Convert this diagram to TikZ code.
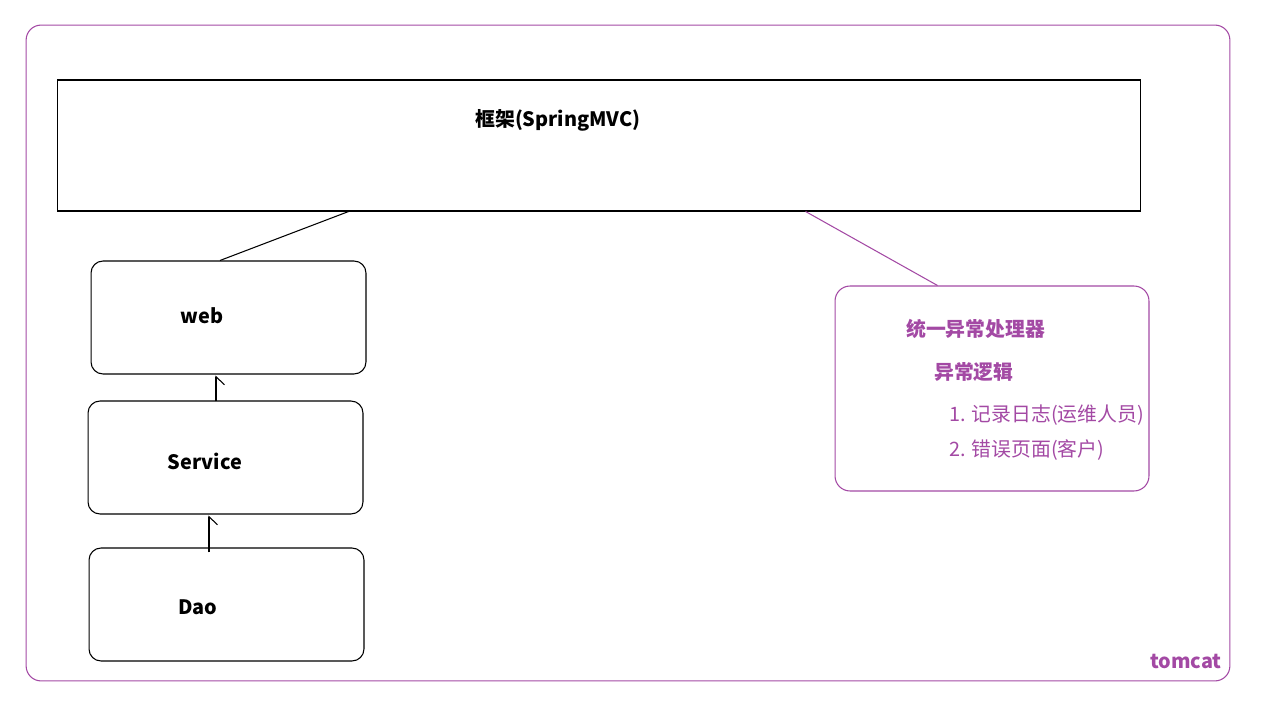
\documentclass[tikz,border=0pt]{standalone}
\usepackage{fontspec}
\setmainfont{Noto Sans CJK SC}
\usetikzlibrary{calc,arrows.meta}
\definecolor{tomcatpurple}{RGB}{163,73,164}
\begin{document}
\begin{tikzpicture}[x=0.02cm, y=-0.02cm, font=\fontsize{11.3}{13}\selectfont,
	box/.style={rectangle, rounded corners=0.24cm, draw=black, line width=0.6pt, minimum width=5.5cm, minimum height=2.26cm},
	boxtext/.style={font=\fontsize{11.3}{13}\selectfont\bfseries},
	half/.style={-{Straight Barb[right, length=0.16cm, width=0.34cm]}, line width=0.6pt}]
	\useasboundingbox (0,0) rectangle (1267,702);
	\node[rectangle, rounded corners=0.3cm, draw=tomcatpurple, line width=0.6pt, minimum width=24.08cm, minimum height=13.12cm](tomcat) at (628,353){};
	\node[text=tomcatpurple, boxtext](tomcattext) at (1186,661){tomcat};
	\node[rectangle, draw=black, line width=0.6pt, minimum width=21.68cm, minimum height=2.62cm](frame) at (599,145.5){};
	\node[boxtext](frametitle) at (558,120){框架(SpringMVC)};
	\node[box](web) at (228.5,317.5){};
	\node[boxtext](webtext) at (202,316){web};
	\node[box](service) at (225.5,457.5){};
	\node[boxtext](servicetext) at (205,461){Service};
	\node[box](dao) at (226.5,604.5){};
	\node[boxtext](daotext) at (198,607){Dao};
	\node[rectangle, rounded corners=0.3cm, draw=tomcatpurple, line width=0.6pt, minimum width=6.28cm, minimum height=4.1cm](handler) at (992,388.5){};
	\node[text=tomcatpurple, boxtext, anchor=west](handlertitle) at (900,329){统一异常处理器};
	\node[text=tomcatpurple, boxtext, anchor=west](logic) at (928,372){异常逻辑};
	\node[text=tomcatpurple, anchor=west](stepone) at (943,415){1. 记录日志(运维人员)};
	\node[text=tomcatpurple, anchor=west](steptwo) at (943,450){2. 错误页面(客户)};
	\draw[line width=0.6pt] ($(web.north)+(-8.5,0)$) -- ($(frame.south west)+(292,0)$);
	\draw[line width=0.6pt, draw=tomcatpurple] ($(frame.south west)+(749,0)$) -- ($(handler.north west)+(103,0)$);
	\draw[half] ($(service.north)+(-9.5,1)$) -- ($(web.south)+(-12.5,1)$);
	\draw[half] ($(dao.north)+(-17.5,5)$) -- ($(service.south)+(-16.5,1)$);
\end{tikzpicture}
\end{document}
